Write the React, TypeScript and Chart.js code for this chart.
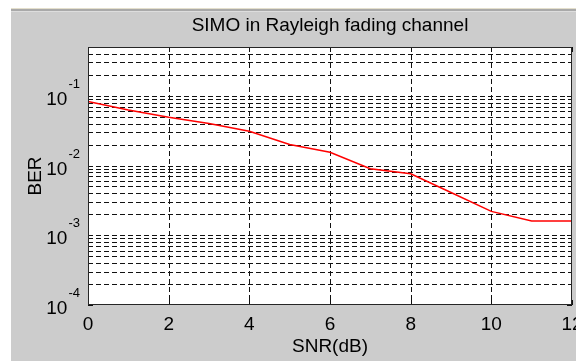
import React, { useEffect, useRef } from 'react';
import { Chart, registerables } from 'chart.js';

Chart.register(...registerables);

// ---- data ----
const snrDb = [0, 1, 2, 3, 4, 5, 6, 7, 8, 9, 10, 11, 12];
const ber = [0.083, 0.0625, 0.049, 0.04, 0.031, 0.02, 0.0155, 0.009, 0.0076, 0.0041, 0.0022, 0.0016, 0.0016];
const xTickValues = [0, 2, 4, 6, 8, 10, 12];
const yDecadeExponents = [-4, -3, -2, -1];
const yMinorMultipliers = [1, 2, 3, 4, 5, 6, 7, 8, 9];
const titleText = 'SIMO in Rayleigh fading channel';
const xTitle = 'SNR(dB)';
const yTitle = 'BER';
const X_MIN = 0;
const X_MAX = 12;
const Y_MIN = 1e-4;
const Y_MAX = 0.5;

const FONT_FAMILY = "'Liberation Sans', Arial, Helvetica, sans-serif";
const GRID_COLOR = '#111111';

function buildYTicks() {
  const out: { value: number }[] = [];
  for (const e of yDecadeExponents) {
    for (const m of yMinorMultipliers) {
      const v = m * Math.pow(10, e);
      if (v >= Y_MIN * 0.999 && v <= Y_MAX * 1.001) out.push({ value: v });
    }
  }
  return out;
}

function isDecade(v: number) {
  const l = Math.log10(v);
  return Math.abs(l - Math.round(l)) < 1e-6;
}

const matlabPlugin = {
  id: 'matlabLook',
  beforeDraw(chart: any) {
    const ctx = chart.ctx as CanvasRenderingContext2D;
    const W = chart.width;
    const H = chart.height;
    const a = chart.chartArea;
    ctx.save();
    ctx.fillStyle = '#ffffff';
    ctx.fillRect(0, 0, W, H);
    ctx.fillStyle = '#cccccc';
    ctx.fillRect(11, 9, W - 11, H - 9);
    ctx.fillStyle = '#e4dfcc';
    ctx.fillRect(11, 8, W - 11, 1);
    ctx.fillStyle = '#a9a9a9';
    ctx.fillRect(11, 9, W - 11, 2);
    ctx.fillStyle = '#dddddd';
    ctx.fillRect(11, 11, W - 11, 1);
    // plot area
    ctx.fillStyle = '#ffffff';
    ctx.fillRect(a.left, a.top, a.right - a.left, a.bottom - a.top);
    ctx.restore();
  },
  beforeDatasetsDraw(chart: any) {
    const ctx = chart.ctx as CanvasRenderingContext2D;
    const a = chart.chartArea;
    const xs = chart.scales.x;
    const ys = chart.scales.y;
    ctx.save();
    ctx.strokeStyle = GRID_COLOR;
    ctx.lineWidth = 1;
    ctx.setLineDash([5, 3]);
    // vertical grid
    for (const t of xs.ticks) {
      const px = Math.round(xs.getPixelForValue(t.value)) + 0.5;
      if (px <= a.left + 1 || px >= a.right - 1) continue;
      ctx.beginPath();
      ctx.moveTo(px, a.top);
      ctx.lineTo(px, a.bottom);
      ctx.stroke();
    }
    // horizontal grid
    for (const t of ys.ticks) {
      const py = Math.round(ys.getPixelForValue(t.value)) + 0.5;
      if (py <= a.top + 1 || py >= a.bottom - 1) continue;
      ctx.beginPath();
      ctx.moveTo(a.left, py);
      ctx.lineTo(a.right, py);
      ctx.stroke();
    }
    ctx.restore();
  },
  afterDatasetsDraw(chart: any) {
    const ctx = chart.ctx as CanvasRenderingContext2D;
    const a = chart.chartArea;
    const xs = chart.scales.x;
    const ys = chart.scales.y;
    ctx.save();
    // tick marks (inside, both sides)
    ctx.strokeStyle = GRID_COLOR;
    ctx.lineWidth = 1;
    ctx.setLineDash([]);
    for (const t of xs.ticks) {
      const px = Math.round(xs.getPixelForValue(t.value)) + 0.5;
      ctx.beginPath();
      ctx.moveTo(px, a.bottom);
      ctx.lineTo(px, a.bottom - 5);
      ctx.moveTo(px, a.top);
      ctx.lineTo(px, a.top + 5);
      ctx.stroke();
    }
    for (const t of ys.ticks) {
      const py = Math.round(ys.getPixelForValue(t.value)) + 0.5;
      const len = isDecade(t.value) ? 5 : 3;
      ctx.beginPath();
      ctx.moveTo(a.left, py);
      ctx.lineTo(a.left + len, py);
      ctx.moveTo(a.right, py);
      ctx.lineTo(a.right - len, py);
      ctx.stroke();
    }
    // box
    ctx.strokeStyle = '#262626';
    ctx.strokeRect(Math.round(a.left) + 0.5, Math.round(a.top) + 0.5, Math.round(a.right - a.left) - 1, Math.round(a.bottom - a.top) - 1);

    // texts
    ctx.fillStyle = '#000000';
    ctx.font = `19px ${FONT_FAMILY}`;
    ctx.textBaseline = 'alphabetic';
    // title
    ctx.textAlign = 'center';
    ctx.fillText(titleText, (a.left + a.right) / 2, 31);
    // x tick labels
    for (const t of xs.ticks) {
      const px = xs.getPixelForValue(t.value);
      ctx.fillText(String(t.value), px, a.bottom + 25);
    }
    // x title
    ctx.fillText(xTitle, (a.left + a.right) / 2, a.bottom + 47);
    // y title
    ctx.save();
    ctx.translate(41, (a.top + a.bottom) / 2);
    ctx.rotate(-Math.PI / 2);
    ctx.textAlign = 'center';
    ctx.fillText(yTitle, 0, 0);
    ctx.restore();
    // y tick labels (10^e)
    for (const t of ys.ticks) {
      if (!isDecade(t.value)) continue;
      const e = Math.round(Math.log10(t.value));
      const py = ys.getPixelForValue(t.value);
      const supText = String(e);
      ctx.font = `13px ${FONT_FAMILY}`;
      const supW = ctx.measureText(supText).width;
      ctx.textAlign = 'right';
      const supRight = a.left - 8;
      ctx.fillText(supText, supRight, py - 8);
      ctx.font = `19px ${FONT_FAMILY}`;
      ctx.fillText('10', supRight - supW - 1, py + 9);
    }
    ctx.restore();
  },
};

export default function App() {
  const canvasRef = useRef<HTMLCanvasElement | null>(null);

  useEffect(() => {
    document.body.style.margin = '0';
    const canvas = canvasRef.current;
    if (!canvas) return;
    const chart = new Chart(canvas, {
      type: 'line',
      data: {
        datasets: [
          {
            label: 'BER',
            data: snrDb.map((x, i) => ({ x, y: ber[i] })),
            borderColor: '#ff0000',
            backgroundColor: '#ff0000',
            borderWidth: 1.5,
            pointRadius: 0,
            tension: 0,
            fill: false,
          },
        ],
      },
      options: {
        animation: false,
        responsive: false,
        maintainAspectRatio: false,
        devicePixelRatio: 1,
        layout: { padding: { left: 0, right: 4, top: 47, bottom: 0 } },
        plugins: {
          legend: { display: false },
          title: { display: false },
          tooltip: { enabled: false },
        },
        scales: {
          x: {
            type: 'linear',
            min: X_MIN,
            max: X_MAX,
            grid: { display: false },
            border: { display: false },
            ticks: { display: false },
            afterBuildTicks: (scale: any) => {
              scale.ticks = xTickValues.map((v) => ({ value: v }));
            },
            afterFit: (scale: any) => {
              scale.height = 56;
            },
          },
          y: {
            type: 'logarithmic',
            min: Y_MIN,
            max: Y_MAX,
            grid: { display: false },
            border: { display: false },
            ticks: { display: false },
            afterBuildTicks: (scale: any) => {
              scale.ticks = buildYTicks();
            },
            afterFit: (scale: any) => {
              scale.width = 88;
            },
          },
        },
      } as any,
      plugins: [matlabPlugin],
    });
    return () => chart.destroy();
  }, []);

  return (
    <div style={{ position: 'absolute', left: 0, top: 0, width: 576, height: 361 }}>
      <canvas ref={canvasRef} width={576} height={361} style={{ display: 'block', width: 576, height: 361 }} />
    </div>
  );
}
